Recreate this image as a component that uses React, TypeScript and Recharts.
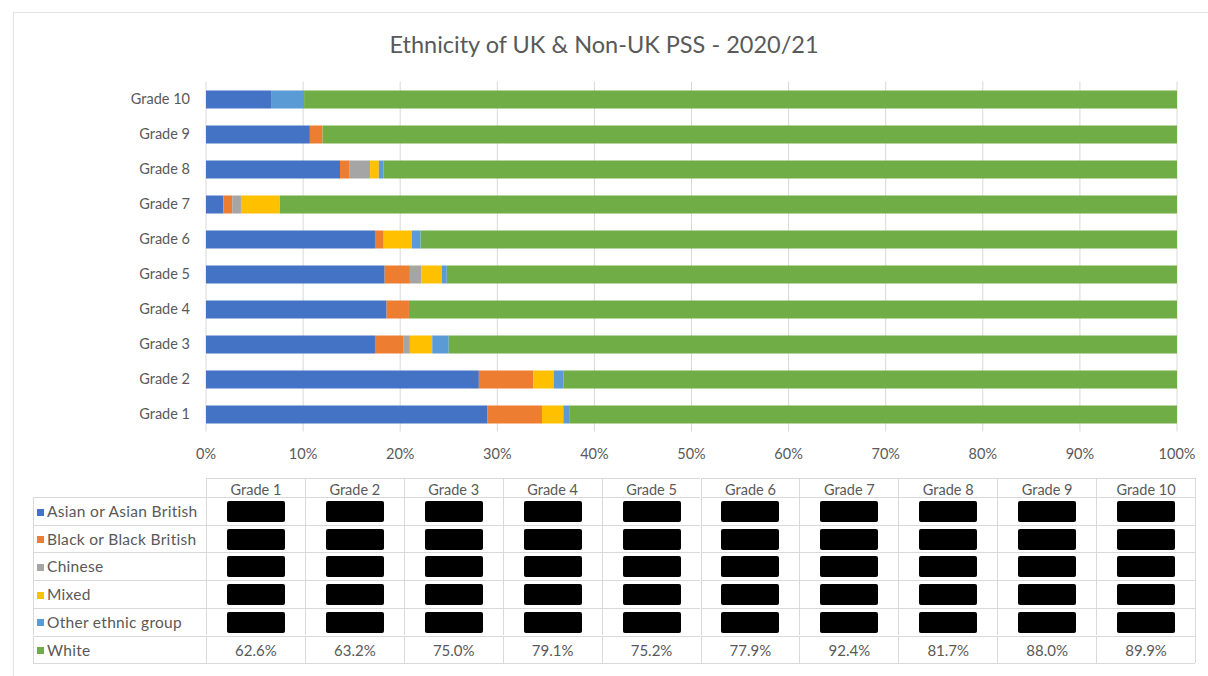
import { BarChart, Bar, XAxis, YAxis, CartesianGrid } from 'recharts';

// ── Data (percent of staff per grade) ─────────────────────────────────────────
const grades = ['Grade 1', 'Grade 2', 'Grade 3', 'Grade 4', 'Grade 5', 'Grade 6', 'Grade 7', 'Grade 8', 'Grade 9', 'Grade 10'];
const asian = [29.0, 28.1, 17.4, 18.6, 18.4, 17.4, 1.8, 13.8, 10.7, 6.7];
const black = [5.6, 5.6, 2.9, 2.3, 2.6, 0.9, 0.9, 1.0, 1.3, 0];
const chinese = [0, 0, 0.7, 0, 1.2, 0, 0.9, 2.1, 0, 0];
const mixed = [2.2, 2.1, 2.3, 0, 2.1, 2.9, 4.0, 0.9, 0, 0];
const other = [0.6, 1.0, 1.7, 0, 0.5, 0.9, 0, 0.5, 0, 3.4];
const white = [62.6, 63.2, 75.0, 79.1, 75.2, 77.9, 92.4, 81.7, 88.0, 89.9];
const xTicks = [0, 10, 20, 30, 40, 50, 60, 70, 80, 90, 100];

// ── Series definitions ────────────────────────────────────────────────────────
const SERIES = [
    { key: 'Asian or Asian British', values: asian, color: '#4472c4', hidden: true },
    { key: 'Black or Black British', values: black, color: '#ed7d31', hidden: true },
    { key: 'Chinese', values: chinese, color: '#a5a5a5', hidden: true },
    { key: 'Mixed', values: mixed, color: '#ffc000', hidden: true },
    { key: 'Other ethnic group', values: other, color: '#5b9bd5', hidden: true },
    { key: 'White', values: white, color: '#70ad47', hidden: false },
];

const rows = grades.map((grade, i) => {
    const row: Record<string, string | number> = { grade };
    SERIES.forEach(s => { row[s.key] = s.values[i]; });
    return row;
});

const FONT = 'Lato, "Liberation Sans", sans-serif';
const TEXT = '#595959';
const GRID = '#d9d9d9';

// table geometry
const TABLE_LEFT = 33;
const LABEL_W = 173;
const COL_W = 98.9;
const HEAD_TOP = 478;
const HEAD_H = 19;
const ROW_H = 27.7;

function DataTable() {
    const cells: JSX.Element[] = [];
    grades.forEach((g, c) => {
        cells.push(
            <div key={`h${c}`} style={{
                position: 'absolute', left: TABLE_LEFT + LABEL_W + c * COL_W, top: HEAD_TOP,
                width: COL_W, height: HEAD_H, borderLeft: `1px solid ${GRID}`, borderTop: `1px solid ${GRID}`,
                boxSizing: 'border-box', textAlign: 'center', fontSize: 14.5, lineHeight: `${HEAD_H + 2}px`, color: TEXT,
            }}>{g}</div>
        );
    });
    SERIES.forEach((s, r) => {
        const top = HEAD_TOP + HEAD_H + r * ROW_H;
        cells.push(
            <div key={`l${r}`} style={{
                position: 'absolute', left: TABLE_LEFT, top, width: LABEL_W, height: ROW_H,
                borderLeft: `1px solid ${GRID}`, borderTop: `1px solid ${GRID}`, boxSizing: 'border-box',
                fontSize: 15.5, lineHeight: `${ROW_H}px`, color: TEXT, whiteSpace: 'nowrap', paddingLeft: 3,
                letterSpacing: 0.3, overflow: 'hidden',
            }}>
                <span style={{ display: 'inline-block', width: 7, height: 7, background: s.color, marginRight: 3, verticalAlign: 'middle', marginBottom: 2 }} />
                {s.key}
            </div>
        );
        grades.forEach((_, c) => {
            cells.push(
                <div key={`c${r}-${c}`} style={{
                    position: 'absolute', left: TABLE_LEFT + LABEL_W + c * COL_W, top, width: COL_W, height: ROW_H,
                    borderLeft: `1px solid ${GRID}`, borderTop: `1px solid ${GRID}`, boxSizing: 'border-box',
                    display: 'flex', alignItems: 'center', justifyContent: 'center',
                    fontSize: 15, color: TEXT,
                }}>
                    {s.hidden
                        ? <span style={{ display: 'block', width: 58, height: 21, background: '#000', borderRadius: 2 }} />
                        : `${s.values[c].toFixed(1)}%`}
                </div>
            );
        });
    });
    const bottom = HEAD_TOP + HEAD_H + SERIES.length * ROW_H;
    const right = TABLE_LEFT + LABEL_W + grades.length * COL_W;
    return (
        <>
            {cells}
            <div style={{ position: 'absolute', left: TABLE_LEFT, top: bottom, width: right - TABLE_LEFT, height: 0, borderTop: `1px solid ${GRID}` }} />
            <div style={{ position: 'absolute', left: right, top: HEAD_TOP, width: 0, height: bottom - HEAD_TOP, borderLeft: `1px solid ${GRID}` }} />
        </>
    );
}

export default function App() {
    return (
        <div style={{ position: 'absolute', left: 0, top: 0, width: 1208, height: 676, background: '#fff', fontFamily: FONT, overflow: 'hidden' }}>
            {/* chart area border */}
            <div style={{ position: 'absolute', left: 13, top: 12, width: 1200, height: 670, border: '1px solid #e4e4e4', boxSizing: 'border-box' }} />

            <div style={{ position: 'absolute', left: 0, top: 30, width: 1208, textAlign: 'center', fontSize: 23.5, color: TEXT }}>
                Ethnicity of UK &amp; Non-UK PSS - 2020/21
            </div>

            <div style={{ position: 'absolute', left: 0, top: 0 }}>
                <BarChart
                    width={1208}
                    height={470}
                    data={rows}
                    layout="vertical"
                    barSize={18}
                    margin={{ top: 81.5, right: 31, bottom: 0, left: 0 }}
                >
                    <CartesianGrid horizontal={false} stroke={GRID} />
                    <XAxis
                        type="number"
                        domain={[0, 100]}
                        ticks={xTicks}
                        tickFormatter={(v: number) => `${v}%`}
                        tick={{ fontSize: 14.5, fill: TEXT, fontFamily: FONT }}
                        axisLine={false}
                        tickLine={false}
                        tickMargin={11}
                        height={38.5}
                        interval={0}
                    />
                    <YAxis
                        type="category"
                        dataKey="grade"
                        reversed
                        width={206}
                        tick={{ fontSize: 14.5, fill: TEXT, fontFamily: FONT }}
                        axisLine={false}
                        tickLine={false}
                        tickMargin={10}
                        interval={0}
                    />
                    {SERIES.map(s => (
                        <Bar key={s.key} dataKey={s.key} stackId="eth" fill={s.color} isAnimationActive={false} />
                    ))}
                </BarChart>
            </div>

            <DataTable />
        </div>
    );
}
